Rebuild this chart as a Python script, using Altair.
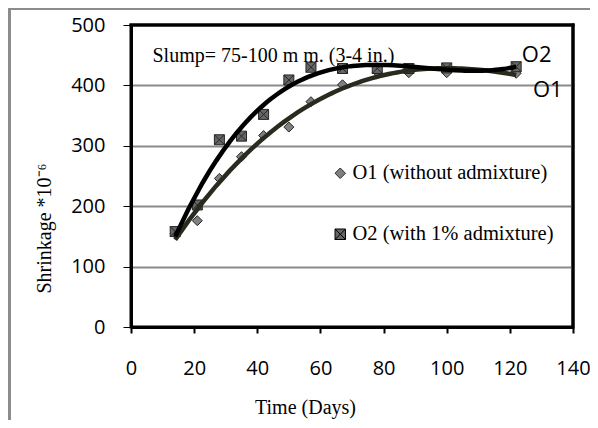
import altair as alt
import pandas as pd

# ---- data ----
days_o1 = [14, 21, 28, 35, 42, 50, 57, 67, 78, 88, 100, 122]
shrink_o1 = [155, 176, 246, 282, 317, 331, 373, 401, 422, 421, 421, 420]
days_o2 = [14, 21, 28, 35, 42, 50, 57, 67, 78, 88, 100, 122]
shrink_o2 = [158, 202, 310, 316, 352, 409, 430, 428, 428, 428, 429, 431]
series_names = ["O1 (without admixture)", "O2 (with 1% admixture)"]
x_ticks = [0, 20, 40, 60, 80, 100, 120, 140]
y_ticks = [0, 100, 200, 300, 400, 500]

rows = []
for d, v in zip(days_o1, shrink_o1):
    rows.append({"day": d, "shrink": v, "series": series_names[0]})
for d, v in zip(days_o2, shrink_o2):
    rows.append({"day": d, "shrink": v, "series": series_names[1]})
df = pd.DataFrame(rows)

SERIF = "Liberation Serif"
SANS = "Open Sans"

x_scale = alt.Scale(domain=[0, 140], nice=False)
y_scale = alt.Scale(domain=[0, 500], nice=False)

x_enc = alt.X(
    "day:Q", scale=x_scale,
    axis=alt.Axis(
        values=x_ticks, title="Time (Days)", grid=False, labelFlush=False,
        labelFont=SANS, labelFontSize=20, labelColor="#000",
        labelPadding=25, tickSize=6, tickWidth=2, tickColor="#000",
        domainColor="#000", domainWidth=3,
        titleFont=SERIF, titleFontSize=20, titleFontWeight="normal",
        titleX=174, titleY=86, titleBaseline="alphabetic", titleAlign="center",
        titleColor="#000",
    ),
)
y_enc = alt.Y(
    "shrink:Q", scale=y_scale,
    axis=alt.Axis(
        values=y_ticks, title="Shrinkage *10⁻⁶", grid=True, labelFlush=False,
        gridColor="#8a8a8a", gridWidth=2,
        labelFont=SANS, labelFontSize=20, labelColor="#000",
        labelPadding=18, tickSize=8, tickWidth=1, tickColor="#000",
        domainColor="#000", domainWidth=3,
        titleFont=SERIF, titleFontSize=20, titleFontWeight="normal",
        titleX=-87, titleY=203, titleBaseline="middle", titleAlign="center",
        titleAngle=270, titleColor="#000",
    ),
)

square_x = "M-1,-1H1V1H-1ZM-1,-1L1,1M-1,1L1,-1"

legend = alt.Legend(
    title=None, orient="none", legendX=199, legendY=138, padding=0,
    labelFont=SERIF, labelFontSize=20.5, labelColor="#000",
    labelOffset=2, rowPadding=40, symbolSize=110,
    symbolStrokeColor="#262626", symbolStrokeWidth=1, labelLimit=400,
)

points = alt.Chart(df).mark_point(filled=False, size=100, stroke="#262626",
                                  strokeWidth=1, opacity=1, fillOpacity=1).encode(
    x=x_enc,
    y=y_enc,
    shape=alt.Shape("series:N", scale=alt.Scale(domain=series_names,
                                                range=["diamond", square_x]),
                    legend=legend),
    fill=alt.Fill("series:N", scale=alt.Scale(domain=series_names,
                                              range=["#808080", "#666666"]),
                  legend=legend),
)

lines = alt.Chart(df).transform_regression(
    "day", "shrink", method="poly", order=3, groupby=["series"]
).mark_line(strokeWidth=4.5).encode(
    x="day:Q",
    y="shrink:Q",
    color=alt.Color("series:N", scale=alt.Scale(domain=series_names,
                                                range=["#2b2a1f", "#000000"]),
                    legend=None),
)

slump = alt.Chart().mark_text(
    text="Slump= 75-100 m m. (3-4 in.)", font=SERIF, fontSize=20,
    align="left", baseline="alphabetic", color="#000"
).encode(x=alt.datum(6.8), y=alt.datum(438))

lab_o2 = alt.Chart().mark_text(
    text="O2", font=SANS, fontSize=22, align="center", baseline="middle", color="#000"
).encode(x=alt.datum(128.5), y=alt.datum(450))

lab_o1 = alt.Chart().mark_text(
    text="O1", font=SANS, fontSize=22, align="center", baseline="middle", color="#000"
).encode(x=alt.datum(132), y=alt.datum(392))

# plot-frame top and right edges as filled strips
edge_top = alt.Chart().mark_rect(color="#000000", opacity=1).encode(
    x=alt.value(-1.5), x2=alt.value(443.5), y=alt.value(-1.5), y2=alt.value(1.5))
edge_right = alt.Chart().mark_rect(color="#000000", opacity=1).encode(
    x=alt.value(440.5), x2=alt.value(443.5), y=alt.value(-1.5), y2=alt.value(303.5))

# outer frame of the original picture (top and left edges), as filled strips
outer_top = alt.Chart().mark_rect(color="#8c8c8c", opacity=1).encode(
    x=alt.value(-123), x2=alt.value(459), y=alt.value(-17), y2=alt.value(-15))
outer_left = alt.Chart().mark_rect(color="#8c8c8c", opacity=1).encode(
    x=alt.value(-123), x2=alt.value(-120), y=alt.value(-17), y2=alt.value(395))

chart = alt.layer(points, lines, slump, lab_o2, lab_o1,
                  edge_top, edge_right, outer_top, outer_left).properties(
    width=442, height=302,
    background="white",
    autosize=alt.AutoSizeParams(type="none"),
    padding={"left": 123, "top": 17, "right": 17, "bottom": 93},
).configure_view(stroke="#000000", strokeWidth=3)

chart.save("out.html", embed_options={"renderer": "svg", "actions": False})
